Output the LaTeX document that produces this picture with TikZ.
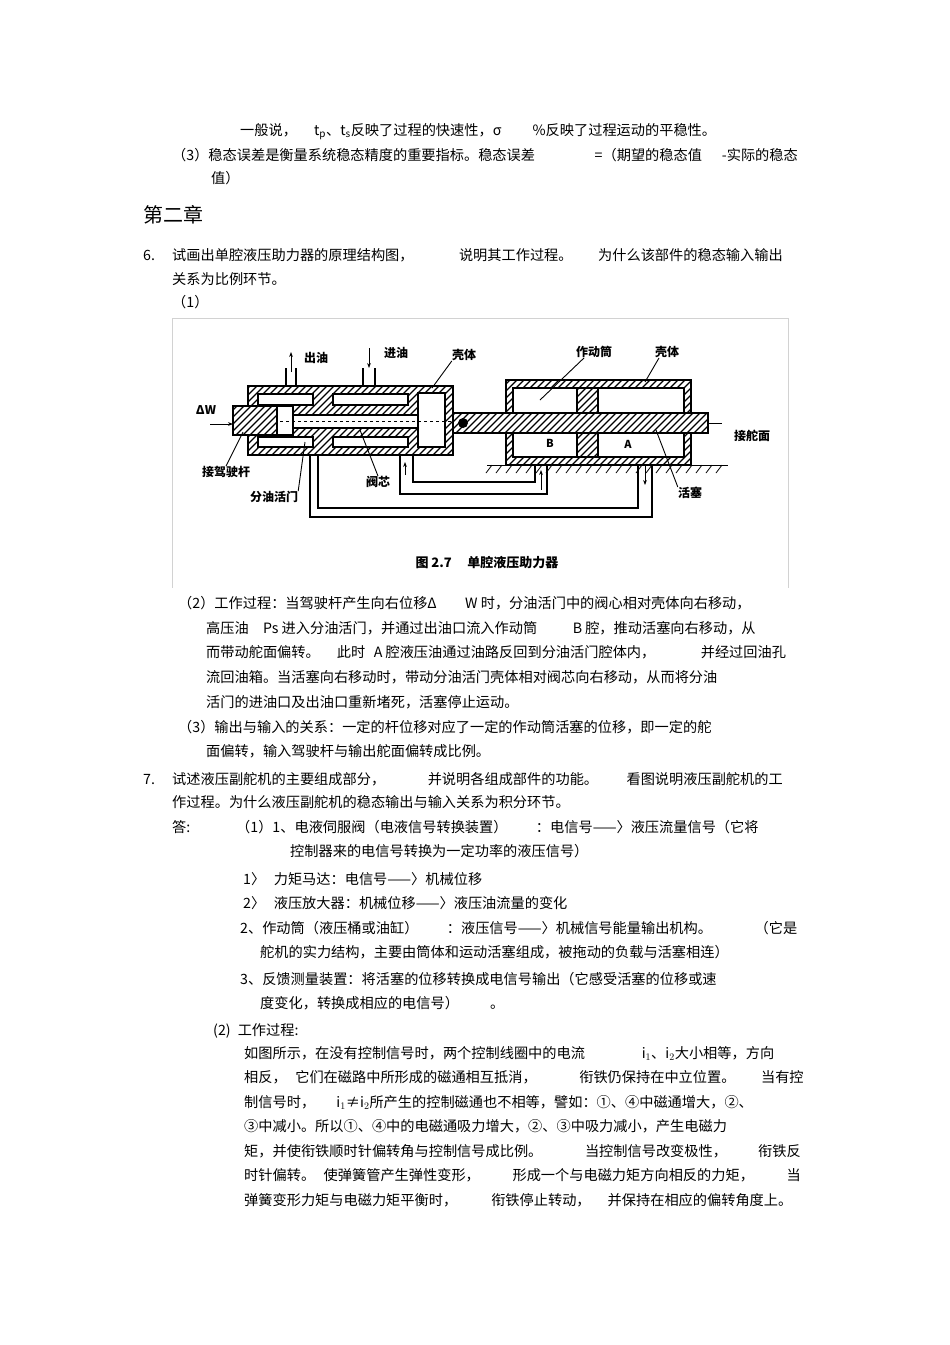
\documentclass[tikz,border=0pt]{standalone}
\usepackage{fontspec}
\setmainfont{Noto Sans CJK SC}
\usetikzlibrary{arrows.meta}
\newcommand\hatchbox[4]{%
 \begin{scope}
 \clip (#1,#2) rectangle (#3,#4);
 \fill[white] (#1,#2) rectangle (#3,#4);
 \foreach \k in {-200,-193,...,300} \draw[line width=1.3pt] (#1+\k,#4) -- ++(120,-120);
 \end{scope}
 \draw[line width=1.2pt] (#1,#2) rectangle (#3,#4);}
\begin{document}
\begin{tikzpicture}[x=1pt,y=-1pt,
 tl/.style={anchor=base west,inner sep=0pt,font=\fontsize{14.2}{15}\selectfont},
 fl/.style={anchor=center,inner sep=0pt,font=\fontsize{12}{13}\selectfont\bfseries},
 wh/.style={fill=white,draw=black,line width=1.1pt},
 pipe/.style={line width=1.2pt},
 lead/.style={line width=0.9pt}]
\useasboundingbox (0,0) rectangle (950,1345);
% text
\node[tl] (l1) at (240,135) {一般说，\hspace{1.2em}t$_{\mathrm p}$、t$_{\mathrm s}$反映了过程的快速性，σ\hspace{2.2em}\%反映了过程运动的平稳性。};
\node[tl] (l2) at (172,160) {（3）稳态误差是衡量系统稳态精度的重要指标。稳态误差\hspace{4.2em}=（期望的稳态值\hspace{1.4em}-实际的稳态};
\node[tl] (l3) at (211,183) {值）};
\node[tl,font=\fontsize{20}{22}\selectfont] (ch) at (143,222) {第二章};
\node[tl] (q6n) at (143,260) {6.};
\node[tl] (q6) at (172,260) {试画出单腔液压助力器的原理结构图，\hspace{3.2em}说明其工作过程。\hspace{1.8em}为什么该部件的稳态输入输出};
\node[tl] (q6b) at (172,284) {关系为比例环节。};
\node[tl] (p1) at (172,307) {（1）};
% figure frame
\draw[gray!35,line width=0.6pt] (172,318) -- (788,318) (172,318) -- (172,588) (788,318) -- (788,588);
% pipes
\draw[pipe] (400,455) -- (400,494) -- (547,494) -- (547,465);
\draw[pipe] (413,455) -- (413,482) -- (535,482) -- (535,465);
\draw[pipe] (310,455) -- (310,517) -- (652,517) -- (652,465);
\draw[pipe] (318,455) -- (318,508) -- (638,508) -- (638,465);
\draw[-{Stealth[length=5pt]},line width=0.8pt] (541,490) -- (541,470);
\draw[-{Stealth[length=5pt]},line width=0.8pt] (645,465) -- (645,485);
\draw[-{Stealth[length=5pt]},line width=0.8pt] (405,475) -- (405,462);
% valve ports
\draw[pipe] (286,386) -- (286,368) (296,386) -- (296,368);
\draw[pipe] (363,386) -- (363,368) (375,386) -- (375,368);
\draw[-{Stealth[length=5pt]},line width=1pt] (291,372) -- (291,352);
\draw[-{Stealth[length=5pt]},line width=1pt] (369,348) -- (369,368);
% valve housing
\hatchbox{248}{386}{453}{455}
\draw[wh] (258,394) rectangle (313,405);
\draw[wh] (333,394) rectangle (408,405);
\draw[wh] (258,437) rectangle (313,447);
\draw[wh] (333,437) rectangle (408,447);
\draw[wh] (418,393) rectangle (445,447);
\hatchbox{233}{406}{277}{435}
\draw[wh] (277,406) rectangle (293,435);
\draw[wh] (293,415) rectangle (418,428);
\draw[dashed,line width=0.7pt] (280,421) -- (470,421);
\draw[-{Stealth[length=5pt]},line width=0.9pt] (210,424) -- (233,424);
% cylinder
\hatchbox{506}{380}{691}{465}
\draw[wh] (513,388) rectangle (684,457);
\hatchbox{577}{388}{598}{457}
\hatchbox{453}{413}{708}{433}
\fill (463,423) circle (5);
\draw[line width=0.8pt] (708,423) -- (722,423);
% ground
\draw[line width=1pt] (487,465) -- (728,465);
\foreach \x in {492,502,...,722} \draw[line width=0.8pt] (\x,465) -- (\x-6,473);
% labels
\node[fl] (cy) at (316,358) {出油};
\node[fl] (jy) at (396,353) {进油};
\node[fl] (kt) at (464,355) {壳体};
\node[fl] (dw) at (206,410) {ΔW};
\node[fl] (jj) at (226,472) {接驾驶杆};
\node[fl] (fy) at (274,497) {分油活门};
\node[fl] (fx) at (378,482) {阀芯};
\node[fl] (zd) at (594,352) {作动筒};
\node[fl] (kt2) at (667,352) {壳体};
\node[fl,font=\fontsize{11}{12}\selectfont\bfseries] (B) at (550,443) {B};
\node[fl,font=\fontsize{11}{12}\selectfont\bfseries] (A) at (628,444) {A};
\node[fl] (jd) at (752,436) {接舵面};
\node[fl] (hs) at (690,493) {活塞};
\draw[lead] (kt.south west) -- (432,388);
\draw[lead] (zd.south) ++(-10,0) -- (540,400);
\draw[lead] (kt2.south) ++(-8,0) -- (645,382);
\draw[lead] (hs.north west) -- (656,430);
\draw[lead] (jj.north) -- (243,432);
\draw[lead] (fy.north east) -- (305,442);
\draw[lead] (fx.north) -- (360,430);
\node[fl,font=\fontsize{13}{14}\selectfont\bfseries] (cap) at (487,563) {图 2.7\hspace{1.2em}单腔液压助力器};
% text below figure
\node[tl] (a1) at (178,608) {（2）工作过程：当驾驶杆产生向右位移Δ\hspace{2em}W 时，分油活门中的阀心相对壳体向右移动，};
\node[tl] (a2) at (206,633) {高压油\hspace{1em}Ps 进入分油活门，并通过出油口流入作动筒\hspace{2.5em}B 腔，推动活塞向右移动，从};
\node[tl] (a3) at (206,657) {而带动舵面偏转。\hspace{1.2em}此时\hspace{0.6em}A 腔液压油通过油路反回到分油活门腔体内，\hspace{3.2em}并经过回油孔};
\node[tl] (a4) at (206,682) {流回油箱。当活塞向右移动时，带动分油活门壳体相对阀芯向右移动，从而将分油};
\node[tl] (a5) at (206,707) {活门的进油口及出油口重新堵死，活塞停止运动。};
\node[tl] (a6) at (178,732) {（3）输出与输入的关系：一定的杆位移对应了一定的作动筒活塞的位移，即一定的舵};
\node[tl] (a7) at (206,756) {面偏转，输入驾驶杆与输出舵面偏转成比例。};
\node[tl] (q7n) at (143,784) {7.};
\node[tl] (q7) at (172,784) {试述液压副舵机的主要组成部分，\hspace{3em}并说明各组成部件的功能。\hspace{2em}看图说明液压副舵机的工};
\node[tl] (q7b) at (172,807) {作过程。为什么液压副舵机的稳态输出与输入关系为积分环节。};
\node[tl] (ans) at (172,832) {答:};
\node[tl] (b1) at (236,832) {（1）1、电液伺服阀（电液信号转换装置）\hspace{2em}：电信号——〉液压流量信号（它将};
\node[tl] (b2) at (290,856) {控制器来的电信号转换为一定功率的液压信号）};
\node[tl] (b3) at (243,884) {1〉\hspace{0.6em}力矩马达：电信号——〉机械位移};
\node[tl] (b4) at (243,908) {2〉\hspace{0.6em}液压放大器：机械位移——〉液压油流量的变化};
\node[tl] (b5) at (240,933) {2、作动筒（液压桶或油缸）\hspace{2em}：液压信号——〉机械信号能量输出机构。\hspace{3em}（它是};
\node[tl] (b6) at (260,957) {舵机的实力结构，主要由筒体和运动活塞组成，被拖动的负载与活塞相连）};
\node[tl] (b7) at (240,984) {3、反馈测量装置：将活塞的位移转换成电信号输出（它感受活塞的位移或速};
\node[tl] (b8) at (260,1008) {度变化，转换成相应的电信号）\hspace{2.2em}。};
\node[tl] (c0) at (213,1035) {(2)\hspace{0.5em}工作过程:};
\node[tl] (c1) at (244,1058) {如图所示，在没有控制信号时，两个控制线圈中的电流\hspace{4em}i$_1$、i$_2$大小相等，方向};
\node[tl] (c2) at (244,1082) {相反，\hspace{0.6em}它们在磁路中所形成的磁通相互抵消，\hspace{3em}衔铁仍保持在中立位置。\hspace{1.8em}当有控};
\node[tl] (c3) at (244,1107) {制信号时，\hspace{1.5em}i$_1$≠i$_2$所产生的控制磁通也不相等，譬如：①、④中磁通增大，②、};
\node[tl] (c4) at (244,1131) {③中减小。所以①、④中的电磁通吸力增大，②、③中吸力减小，产生电磁力};
\node[tl] (c5) at (244,1156) {矩，并使衔铁顺时针偏转角与控制信号成比例。\hspace{3em}当控制信号改变极性，\hspace{2.2em}衔铁反};
\node[tl] (c6) at (244,1180) {时针偏转。\hspace{0.6em}使弹簧管产生弹性变形，\hspace{2.3em}形成一个与电磁力矩方向相反的力矩，\hspace{2.3em}当};
\node[tl] (c7) at (244,1205) {弹簧变形力矩与电磁力矩平衡时，\hspace{2.4em}衔铁停止转动，\hspace{1.2em}并保持在相应的偏转角度上。};
\end{tikzpicture}
\end{document}
